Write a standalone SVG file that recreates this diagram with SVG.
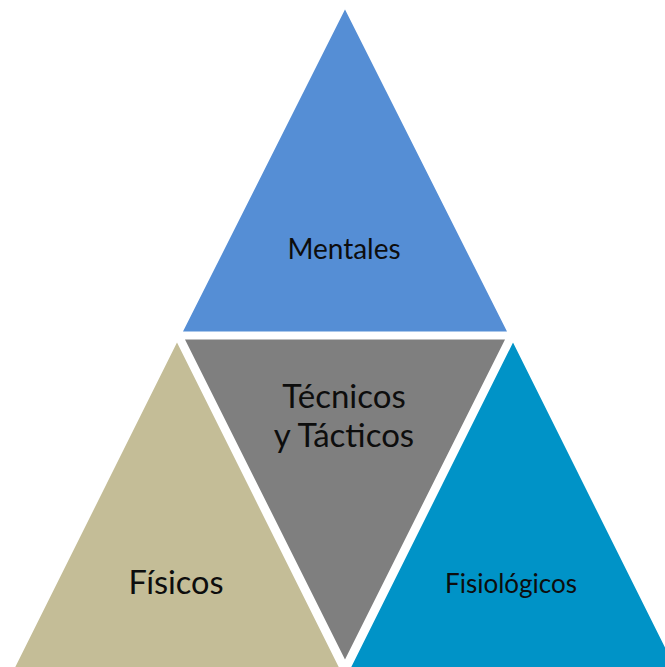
<svg xmlns="http://www.w3.org/2000/svg" width="665" height="667" viewBox="0 0 665 667">
<style>
.tri{stroke:#fff;stroke-width:5;stroke-linejoin:miter}
.lbl{font-family:Lato,"Open Sans","Liberation Sans",sans-serif;fill:#0d0d0d;text-anchor:middle}
</style>
<rect width="665" height="667" fill="#fff"/>
<g id="mentales">
<polygon class="tri" points="345,4 179,334 511,334" fill="#558ED5"/>
<text class="lbl" x="344" y="259" font-size="28">Mentales</text>
</g>
<g id="fisicos">
<polygon class="tri" points="177,337 10,672 344,672" fill="#C4BD97"/>
<text class="lbl" x="176" y="594" font-size="32.5">Físicos</text>
</g>
<g id="fisiologicos">
<polygon class="tri" points="513,337 346,672 680,672" fill="#0093C7"/>
<text class="lbl" x="511" y="593" font-size="26">Fisiológicos</text>
</g>
<g id="tecnicos">
<polygon class="tri" points="181,337 509,337 345,665" fill="#7F7F7F"/>
<text class="lbl" x="344" y="408" font-size="33">Técnicos</text>
<text class="lbl" x="344" y="447" font-size="33">y Tácticos</text>
</g>
<g id="connectors"></g>
</svg>
